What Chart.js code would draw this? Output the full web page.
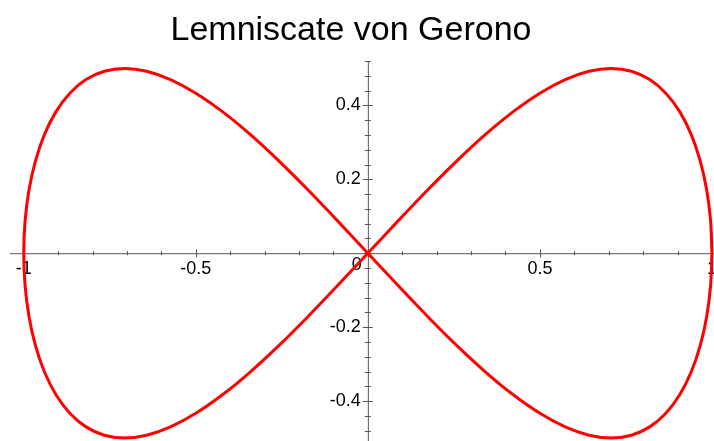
<!DOCTYPE html>
<html>
<head>
<meta charset="utf-8">
<script src="https://cdn.jsdelivr.net/npm/chart.js@4"></script>
<style>
  html, body { margin: 0; padding: 0; background: #fff; }
  #wrap { width: 714px; height: 441px; position: relative; }
</style>
</head>
<body>
<div id="wrap"><canvas id="myChart"></canvas></div>
<script>
const titleText = 'Lemniscate von Gerono';

// points, going round once
const curveX = [1, 0.9962, 0.9848, 0.9659, 0.9397, 0.9063, 0.866, 0.8192, 0.766, 0.7071, 0.6428, 0.5736,
  0.5, 0.4226, 0.342, 0.2588, 0.1736, 0.0872, 0, -0.0872, -0.1736, -0.2588, -0.342, -0.4226,
  -0.5, -0.5736, -0.6428, -0.7071, -0.766, -0.8192, -0.866, -0.9063, -0.9397, -0.9659, -0.9848, -0.9962,
  -1, -0.9962, -0.9848, -0.9659, -0.9397, -0.9063, -0.866, -0.8192, -0.766, -0.7071, -0.6428, -0.5736,
  -0.5, -0.4226, -0.342, -0.2588, -0.1736, -0.0872, 0, 0.0872, 0.1736, 0.2588, 0.342, 0.4226,
  0.5, 0.5736, 0.6428, 0.7071, 0.766, 0.8192, 0.866, 0.9063, 0.9397, 0.9659, 0.9848, 0.9962, 1];
const curveY = [0, 0.0868, 0.171, 0.25, 0.3214, 0.383, 0.433, 0.4698, 0.4924, 0.5, 0.4924, 0.4698,
  0.433, 0.383, 0.3214, 0.25, 0.171, 0.0868, 0, -0.0868, -0.171, -0.25, -0.3214, -0.383,
  -0.433, -0.4698, -0.4924, -0.5, -0.4924, -0.4698, -0.433, -0.383, -0.3214, -0.25, -0.171, -0.0868,
  0, 0.0868, 0.171, 0.25, 0.3214, 0.383, 0.433, 0.4698, 0.4924, 0.5, 0.4924, 0.4698,
  0.433, 0.383, 0.3214, 0.25, 0.171, 0.0868, 0, -0.0868, -0.171, -0.25, -0.3214, -0.383,
  -0.433, -0.4698, -0.4924, -0.5, -0.4924, -0.4698, -0.433, -0.383, -0.3214, -0.25, -0.171, -0.0868, 0];

const xTickValues = [-1, -0.5, 0.5, 1];
const xTickLabels = ['-1', '-0.5', '0.5', '1'];
const yTickValues = [-0.4, -0.2, 0.2, 0.4];
const yTickLabels = ['-0.4', '-0.2', '0.2', '0.4'];
const originLabel = '0';
const xMinorStep = 0.1;
const yMinorStep = 0.04;

const points = curveX.map((x, i) => ({x: x, y: curveY[i]}));

const font = '"Liberation Sans", Arial, sans-serif';

const mapleAxes = {
  id: 'mapleAxes',
  beforeDatasetsDraw(chart) {
    const {ctx} = chart;
    const xs = chart.scales.x, ys = chart.scales.y;
    const x0 = xs.getPixelForValue(0), y0 = ys.getPixelForValue(0);
    ctx.save();
    ctx.strokeStyle = '#555';
    ctx.lineWidth = 1;
    ctx.beginPath();
    ctx.moveTo(xs.left, y0 + 0.5); ctx.lineTo(xs.right, y0 + 0.5);
    ctx.moveTo(x0 + 0.5, ys.top); ctx.lineTo(x0 + 0.5, ys.bottom);
    // x ticks
    for (let v = Math.ceil(xs.min / xMinorStep) * xMinorStep; v <= xs.max + 1e-9; v += xMinorStep) {
      const px = Math.round(xs.getPixelForValue(v)) + 0.5;
      const major = Math.abs(v * 2 - Math.round(v * 2)) < 1e-6;
      const h = major ? 4 : 2;
      ctx.moveTo(px, y0 - h); ctx.lineTo(px, y0 + h);
    }
    // y ticks
    for (let v = Math.ceil(ys.min / yMinorStep) * yMinorStep; v <= ys.max + 1e-9; v += yMinorStep) {
      const py = Math.round(ys.getPixelForValue(v)) + 0.5;
      const major = Math.abs(v * 5 - Math.round(v * 5)) < 1e-6;
      const w = major ? 5 : 3;
      ctx.moveTo(x0 - w, py); ctx.lineTo(x0 + w, py);
    }
    ctx.stroke();

    ctx.fillStyle = '#000';
    ctx.font = '18px ' + font;
    ctx.textAlign = 'center';
    ctx.textBaseline = 'top';
    xTickValues.forEach((v, i) => {
      ctx.fillText(xTickLabels[i], xs.getPixelForValue(v), y0 + 7);
    });
    ctx.fillText(originLabel, x0 - 11, y0 + 3);
    ctx.textAlign = 'right';
    ctx.textBaseline = 'middle';
    yTickValues.forEach((v, i) => {
      ctx.fillText(yTickLabels[i], x0 - 7, ys.getPixelForValue(v));
    });

    ctx.font = '34px ' + font;
    ctx.textAlign = 'center';
    ctx.textBaseline = 'alphabetic';
    ctx.fillText(titleText, 351, 40);
    ctx.restore();
  }
};

new Chart(document.getElementById('myChart'), {
  type: 'scatter',
  data: {
    datasets: [{
      data: points,
      showLine: true,
      borderColor: 'rgb(255, 0, 0)',
      borderWidth: 3,
      pointRadius: 0,
      tension: 0.3,
      clip: false,
    }]
  },
  options: {
    responsive: true,
    maintainAspectRatio: false,
    animation: false,
    layout: {padding: {top: 61, left: 10, right: 0, bottom: 0}},
    plugins: {legend: {display: false}, title: {display: false}, tooltip: {enabled: false}},
    scales: {
      x: {type: 'linear', display: false, min: -1.04, max: 1.006},
      y: {type: 'linear', display: false, min: -0.508, max: 0.52},
    }
  },
  plugins: [mapleAxes],
});
</script>
</body>
</html>
